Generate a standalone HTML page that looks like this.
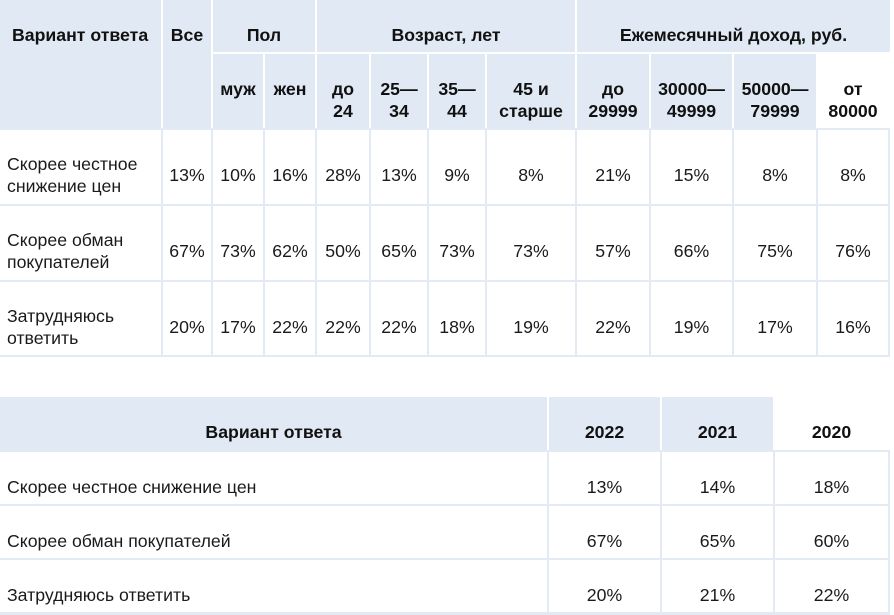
<!DOCTYPE html>
<html><head><meta charset="utf-8">
<style>
body{margin:0;width:894px;height:614px;background:#fff;position:relative;overflow:hidden;font-family:"Liberation Sans",Arial,sans-serif;color:#1a1a1a}
.c{position:absolute;display:flex;align-items:center;justify-content:center;text-align:center;font-size:17.7px;line-height:22px;box-sizing:border-box}
.h{background:#e1e9f4;font-weight:bold;color:#111}
.w{background:#fff}
.b{font-weight:bold;color:#111}
.u{position:absolute;background:#e3eaf4}
</style></head><body>
<script>
const t1Answers=["Скорее честное<br>снижение цен","Скорее обман<br>покупателей","Затрудняюсь<br>ответить"];
const t1Values=[
["13%","10%","16%","28%","13%","9%","8%","21%","15%","8%","8%"],
["67%","73%","62%","50%","65%","73%","73%","57%","66%","75%","76%"],
["20%","17%","22%","22%","22%","18%","19%","22%","19%","17%","16%"]];
const t1Sub=["муж","жен","до<br>24","25—<br>34","35—<br>44","45 и<br>старше","до<br>29999","30000—<br>49999","50000—<br>79999","от<br>80000"];
const t2Years=["2022","2021","2020"];
const t2Answers=["Скорее честное снижение цен","Скорее обман покупателей","Затрудняюсь ответить"];
const t2Values=[["13%","14%","18%"],["67%","65%","60%"],["20%","21%","22%"]];

const cols1=[[0,161],[163,211],[213,263],[265,315],[317,369],[371,427],[429,485],[487,575],[577,649],[651,732],[734,816],[818,888]];
const rows1=[[130,204],[206,280],[282,355]];
const cols2=[[0,547],[549,660],[662,773],[775,888]];
const rows2=[[452,504],[506,558],[560,612]];
function cell(x0,x1,y0,y1,html,cls,name,extra){
  const d=document.createElement('div');
  d.className='c '+cls;
  d.style.left=x0+'px';d.style.top=y0+'px';d.style.width=(x1-x0)+'px';d.style.height=(y1-y0)+'px';
  d.innerHTML=html;
  if(extra)Object.assign(d.style,extra);
  
  
  document.body.appendChild(d);
  return d;
}
function under(x,y,w,h,name){
  const d=document.createElement('div');d.className='u';
  d.style.left=x+'px';d.style.top=y+'px';d.style.width=w+'px';d.style.height=h+'px';
  
  
  document.body.appendChild(d);
}
const top1={alignItems:'flex-start',paddingTop:'24px'};
// table 1
under(0,128,890,229,'table1-grid');
cell(0,161,0,128,'Вариант ответа','h','t1-header-answer',{alignItems:'flex-start',justifyContent:'flex-start',paddingLeft:'12px',paddingTop:'24px'});
cell(163,211,0,128,'Все','h','t1-header-all',top1);
cell(213,315,0,52,'Пол','h','t1-header-gender',top1);
cell(317,575,0,52,'Возраст, лет','h','t1-header-age',top1);
cell(577,890,0,52,'Ежемесячный доход, руб.','h','t1-header-income',top1);
t1Sub.forEach((s,i)=>{const c=cols1[i+2];cell(c[0],c[1],54,128,s,i===9?'w b':'h','t1-subheader-'+i,top1);});
t1Answers.forEach((a,r)=>{
  const R=rows1[r];
  cell(0,161,R[0],R[1],a,'w','t1-answer-'+r,{justifyContent:'flex-start',textAlign:'left',paddingLeft:'7px',paddingTop:'16px'});
  t1Values[r].forEach((v,i)=>{const c=cols1[i+1];cell(c[0],c[1],R[0],R[1],v,'w','t1-value-'+r+'-'+i,{paddingTop:'16px'});});
});
// table 2
under(0,450,890,165,'table2-grid');
cell(0,547,397,450,'Вариант ответа','h','t2-header-answer',{alignItems:'flex-end',paddingBottom:'7px'});
t2Years.forEach((y,i)=>{const c=cols2[i+1];cell(c[0],c[1],397,450,y,i===2?'w b':'h','t2-header-'+y,{alignItems:'flex-end',paddingBottom:'7px'});});
t2Answers.forEach((a,r)=>{
  const R=rows2[r];
  cell(0,547,R[0],R[1],a,'w','t2-answer-'+r,{justifyContent:'flex-start',paddingLeft:'7px',alignItems:'flex-end',paddingBottom:'6px'});
  t2Values[r].forEach((v,i)=>{const c=cols2[i+1];cell(c[0],c[1],R[0],R[1],v,'w','t2-value-'+r+'-'+i,{alignItems:'flex-end',paddingBottom:'6px'});});
});
</script>
</body></html>
